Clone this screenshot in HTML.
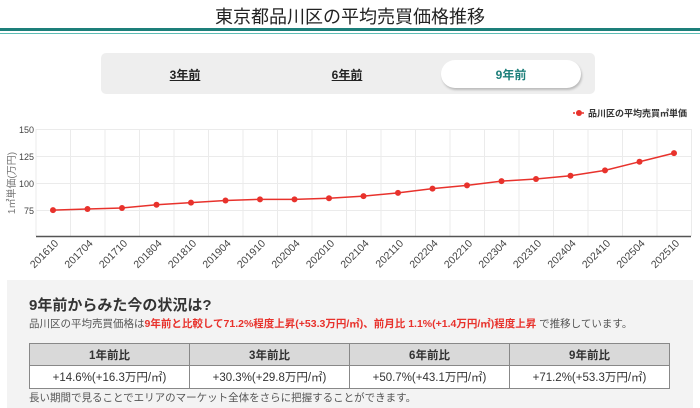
<!DOCTYPE html>
<html><head><meta charset="utf-8"><style>
*{margin:0;padding:0;box-sizing:border-box}
body{width:700px;height:408px;overflow:hidden;background:#fff;font-family:"Liberation Sans","Noto Sans CJK JP",sans-serif;color:#333;position:relative}
.abs{position:absolute}
</style></head><body>
<div class="abs" style="left:0;top:6px;width:700px;text-align:center;font-size:18px;color:#222;line-height:22px">東京都品川区の平均売買価格推移</div>
<div class="abs" style="left:0;top:28px;width:700px;height:3px;background:#1d7f7a"></div>
<div class="abs" style="left:0;top:33px;width:700px;height:1px;background:#5dbdb5"></div>
<div class="abs" style="left:101px;top:53px;width:494px;height:41px;background:#eeeeee;border-radius:5px"></div>
<div class="abs" style="left:441px;top:60px;width:140px;height:28px;background:#fff;border-radius:14px;box-shadow:1px 2px 2px #bbb"></div>
<div class="abs" style="left:150px;top:66px;width:70px;text-align:center;font-size:12px;font-weight:bold;text-decoration:underline;color:#222">3年前</div>
<div class="abs" style="left:312px;top:66px;width:70px;text-align:center;font-size:12px;font-weight:bold;text-decoration:underline;color:#222">6年前</div>
<div class="abs" style="left:476px;top:66px;width:70px;text-align:center;font-size:12px;font-weight:bold;color:#1d7f7a">9年前</div>

<svg class="abs" style="left:0;top:100px" width="700" height="175" viewBox="0 100 700 175" font-family="Liberation Sans, Noto Sans CJK JP, sans-serif">
<g stroke="#ebebeb" stroke-width="1">
<line x1="36" y1="129.5" x2="691" y2="129.5"/><line x1="36" y1="156.5" x2="691" y2="156.5"/><line x1="36" y1="183.5" x2="691" y2="183.5"/><line x1="36" y1="210.5" x2="691" y2="210.5"/>
</g>
<g id="vg" stroke="#ebebeb"></g>
<line x1="36" y1="236.5" x2="691" y2="236.5" stroke="#555" stroke-width="1.5"/>
<g font-size="9" fill="#444" text-anchor="end">
<text x="34" y="133">150</text><text x="34" y="160">125</text><text x="34" y="187">100</text><text x="34" y="214">75</text>
</g>
<text transform="translate(15,183) rotate(-90)" font-size="10" fill="#777" text-anchor="middle">1㎡単価(万円)</text>
<polyline id="pl" fill="none" stroke="#e8322c" stroke-width="1.5"/>
<g id="pts" fill="#e8322c"></g>
<g id="xl" font-size="10.5" fill="#444" text-anchor="end"></g>
<line x1="573" y1="113" x2="585" y2="113" stroke="#e8322c" stroke-width="1.5" stroke-dasharray="2,1"/>
<circle cx="579" cy="113" r="3" fill="#e8322c"/>
<text x="588" y="116.5" font-size="9" font-weight="bold" fill="#333">品川区の平均売買㎡単価</text>
</svg>
<script>
var d=[75,76,77,80,82,84,85,85,86,88,91,95,98,102,104,107,112,120,128];
var lb=["201610","201704","201710","201804","201810","201904","201910","202004","202010","202104","202110","202204","202210","202304","202310","202404","202410","202504","202510"];
var ns="http://www.w3.org/2000/svg",p=[],g=document.getElementById('pts'),x=document.getElementById('xl'),v=document.getElementById('vg');
for(var i=0;i<20;i++){var l=document.createElementNS(ns,'line');var xx=36+i*34.5;l.setAttribute('x1',xx);l.setAttribute('x2',xx);l.setAttribute('y1',129);l.setAttribute('y2',236);v.appendChild(l);}
d.forEach(function(val,i){var cx=53+i*34.5,cy=237-(val-50)*1.075;p.push(cx+','+cy);
var c=document.createElementNS(ns,'circle');c.setAttribute('cx',cx);c.setAttribute('cy',cy);c.setAttribute('r',3);g.appendChild(c);
var t=document.createElementNS(ns,'text');t.setAttribute('transform','translate('+(cx+6)+',244) rotate(-45)');t.textContent=lb[i];x.appendChild(t);});
document.getElementById('pl').setAttribute('points',p.join(' '));
</script>

<div class="abs" style="left:7px;top:280px;width:686px;height:128px;background:#f3f3f3"></div>
<div class="abs" style="left:29px;top:296px;font-size:15px;font-weight:bold;color:#333;line-height:20px">9年前からみた今の状況は?</div>
<div class="abs" style="left:29px;top:317px;font-size:10.5px;color:#555;white-space:nowrap;line-height:15px">品川区の平均売買価格は<b style="color:#e8322c">9年前と比較して71.2%程度上昇(+53.3万円/㎡)、前月比 1.1%(+1.4万円/㎡)程度上昇</b> で推移しています。</div>
<table class="abs" style="left:29px;top:343px;width:641px;height:46px;border-collapse:collapse;font-size:11.5px;text-align:center;table-layout:fixed">
<tr style="background:#d9d9d9;height:22px;font-weight:bold"><td style="border:1px solid #888">1年前比</td><td style="border:1px solid #888">3年前比</td><td style="border:1px solid #888">6年前比</td><td style="border:1px solid #888">9年前比</td></tr>
<tr style="background:#fff"><td style="border:1px solid #888">+14.6%(+16.3万円/㎡)</td><td style="border:1px solid #888">+30.3%(+29.8万円/㎡)</td><td style="border:1px solid #888">+50.7%(+43.1万円/㎡)</td><td style="border:1px solid #888">+71.2%(+53.3万円/㎡)</td></tr>
</table>
<div class="abs" style="left:29px;top:391px;font-size:10.5px;color:#555;line-height:14px">長い期間で見ることでエリアのマーケット全体をさらに把握することができます。</div>
</body></html>
